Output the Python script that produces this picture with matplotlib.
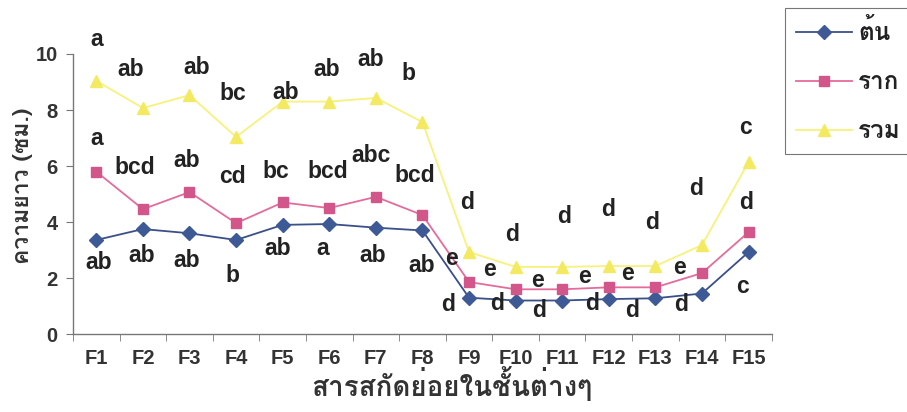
import matplotlib
matplotlib.use("Agg")
import matplotlib.pyplot as plt
from matplotlib import font_manager as fm
import numpy as np

# ---- data -------------------------------------------------------------
fractions = ["F1", "F2", "F3", "F4", "F5", "F6", "F7", "F8",
             "F9", "F10", "F11", "F12", "F13", "F14", "F15"]

stem = [3.36, 3.75, 3.60, 3.36, 3.90, 3.93, 3.80, 3.70,
        1.30, 1.20, 1.20, 1.25, 1.28, 1.45, 2.93]
root = [5.80, 4.46, 5.07, 3.96, 4.70, 4.50, 4.90, 4.25,
        1.86, 1.60, 1.60, 1.67, 1.67, 2.18, 3.64]
total = [9.04, 8.07, 8.53, 7.04, 8.30, 8.30, 8.43, 7.57,
         2.93, 2.40, 2.40, 2.43, 2.43, 3.18, 6.14]

stem_letters = ["ab", "ab", "ab", "b", "ab", "a", "ab", "ab",
                "d", "d", "d", "d", "d", "d", "c"]
root_letters = ["a", "bcd", "ab", "cd", "bc", "bcd", "abc", "bcd",
                "e", "e", "e", "e", "e", "e", "d"]
total_letters = ["a", "ab", "ab", "bc", "ab", "ab", "ab", "b",
                 "d", "d", "d", "d", "d", "d", "c"]

series_names = ["ต้น", "ราก", "รวม"]
y_ticks = [0, 2, 4, 6, 8, 10]
y_label = "ความยาว (ซม.)"
x_label = "สารสกัดย่อยในชั้นต่างๆ"

# ---- letter placement (offset from each point: category units, cm) -----
stem_off = [(0.06, -0.79), (-0.03, -0.93), (-0.05, -0.96), (-0.08, -1.25),
            (-0.11, -0.83), (-0.15, -0.86), (-0.07, -0.98), (-0.02, -1.24),
            (-0.46, -0.26), (-0.39, -0.09), (-0.49, -0.34), (-0.35, -0.14),
            (-0.49, -0.42), (-0.44, -0.41), (-0.13, -1.22)]
root_off = [(0.0, 1.20), (-0.18, 1.47), (-0.07, 1.14), (-0.08, 1.65),
            (-0.14, 1.09), (-0.04, 1.29), (-0.10, 1.49), (-0.17, 1.43),
            (-0.38, 0.85), (-0.56, 0.69), (-0.53, 0.33), (-0.52, 0.37),
            (-0.60, 0.51), (-0.48, 0.21), (-0.06, 1.07)]
total_off = [(0.0, 1.46), (-0.27, 1.36), (0.15, 0.97), (-0.08, 1.56),
             (0.06, 0.34), (-0.06, 1.13), (-0.12, 1.36), (-0.30, 1.75),
             (-0.05, 1.78), (-0.07, 1.14), (0.05, 1.81), (-0.01, 2.03),
             (-0.08, 1.57), (-0.12, 2.03), (-0.06, 1.25)]


# ---- fonts: a Latin bold face plus any installed face that covers Thai --
def find_thai_font():
    try:
        from fontTools.ttLib import TTFont
    except Exception:
        return None, None
    regular, bold = None, None
    for path in sorted(set(fm.findSystemFonts())):
        try:
            tt = TTFont(path, fontNumber=0, lazy=True)
            cmap = tt.getBestCmap() or {}
        except Exception:
            continue
        if 0x0E01 in cmap and 0x0E32 in cmap:
            if "bold" in path.lower():
                bold = bold or path
            else:
                regular = regular or path
    return regular, bold


thai_reg, thai_bold = find_thai_font()
latin = "Liberation Sans"
if thai_bold or thai_reg:
    fm.fontManager.addfont(thai_bold or thai_reg)
    thai_name = fm.FontProperties(fname=thai_bold or thai_reg).get_name()
    families = [latin, thai_name, "DejaVu Sans"]
    thai_families = [thai_name, latin, "DejaVu Sans"]
else:
    families = [latin, "DejaVu Sans"]
    thai_families = families

plt.rcParams["font.family"] = families
plt.rcParams["font.weight"] = "bold"

# ---- figure -------------------------------------------------------------
fig = plt.figure(figsize=(9.07, 4.12), dpi=100)
ax = fig.add_axes([0.0805, 0.189, 0.7705, 0.680])

x = np.arange(len(fractions))
text_col = "#222222"

styles = [
    dict(color="#3b4f88", marker="D", ms=7, mfc="#3e5a96", mec="#3e5a96"),
    dict(color="#e46c9b", marker="s", ms=7.5, mfc="#d3568a", mec="#d3568a"),
    dict(color="#f7f27c", marker="^", ms=8.5, mfc="#f3ea62", mec="#f3ea62"),
]
handles = []
for vals, name, st in zip([stem, root, total], series_names, styles):
    h, = ax.plot(x, vals, lw=1.3, label=name, **st, zorder=3)
    handles.append(h)

for vals, letters, offs in [(stem, stem_letters, stem_off),
                            (root, root_letters, root_off),
                            (total, total_letters, total_off)]:
    for xi, v, lab, (dx, dy) in zip(x, vals, letters, offs):
        ax.text(xi + dx, v + dy, lab, ha="center", va="center",
                fontsize=16.5, fontweight="bold", color=text_col,
                zorder=4, clip_on=False)

ax.set_xlim(-0.5, len(fractions) - 0.5)
ax.set_ylim(0, 10)
ax.set_yticks(y_ticks)
ax.set_yticklabels([str(t) for t in y_ticks], fontsize=14.5,
                   fontweight="bold", color="#333333")
ax.set_xticks(x)
ax.set_xticklabels(fractions, fontsize=14.5, fontweight="bold",
                   color="#333333")
ax.set_xticks(np.arange(-0.5, len(fractions)), minor=True)
ax.tick_params(axis="x", which="major", length=0, pad=11)
ax.tick_params(axis="x", which="minor", length=5, color="#777777",
               direction="out")
ax.tick_params(axis="y", length=5, color="#777777", pad=6)

for side in ["top", "right"]:
    ax.spines[side].set_visible(False)
for side in ["left", "bottom"]:
    ax.spines[side].set_color("#777777")
    ax.spines[side].set_linewidth(1.0)

fig.text(0.025, 0.549, y_label, rotation=90, ha="center", va="center",
         fontsize=16.5, fontweight="bold", color="#333333",
         family=thai_families)
fig.text(0.4985, 0.068, x_label, ha="center", va="center",
         fontsize=20, fontweight="bold", color="#333333",
         family=thai_families)

leg = fig.legend(handles=handles, labels=series_names,
                 loc="upper left", bbox_to_anchor=(0.8655, 0.98),
                 borderaxespad=0.0,
                 prop=fm.FontProperties(family=thai_families, size=17.5,
                                        weight="bold"),
                 frameon=True, fancybox=False, edgecolor="#555555",
                 handlelength=2.3, handletextpad=0.25, labelspacing=1.07,
                 borderpad=0.45)
leg.get_frame().set_linewidth(0.8)
for t in leg.get_texts():
    t.set_color("#222222")

fig.savefig("out.png", dpi=100, facecolor="white")
